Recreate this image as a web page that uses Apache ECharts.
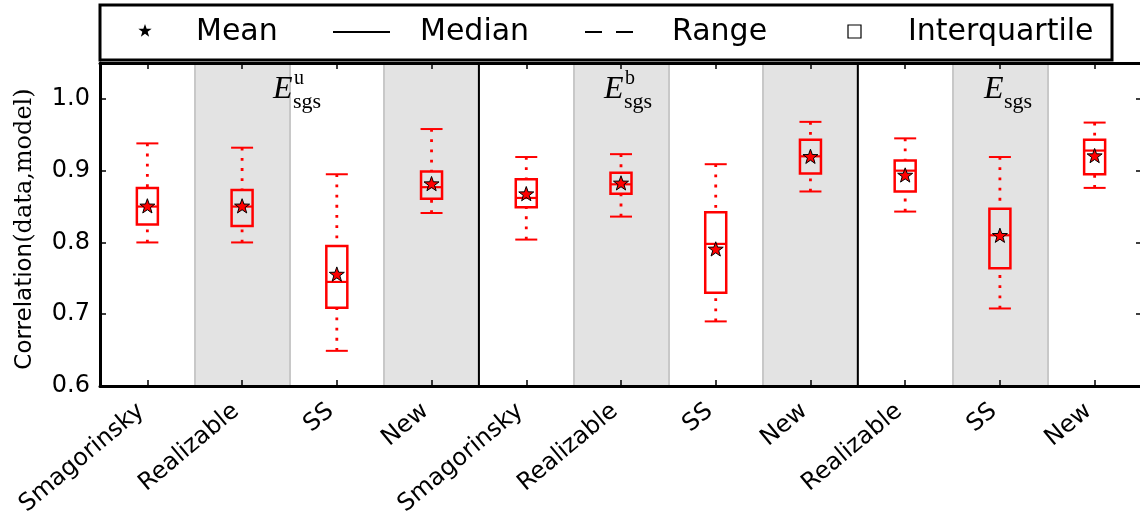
<!DOCTYPE html>
<html>
<head>
<meta charset="utf-8">
<script src="https://cdn.jsdelivr.net/npm/echarts@6/dist/echarts.min.js"></script>
<style>
html,body{margin:0;padding:0;background:#fff;}
#chart{width:1140px;height:523px;}
</style>
</head>
<body>
<div id="chart"></div>
<script>
// ---- data ----
const categories = ['Smagorinsky','Realizable','SS','New','Smagorinsky','Realizable','SS','New','Realizable','SS','New'];
const rangeMin = [0.800,0.800,0.649,0.841, 0.804,0.836,0.690,0.871, 0.843,0.708,0.876];
const q1       = [0.825,0.823,0.709,0.861, 0.849,0.868,0.730,0.896, 0.871,0.764,0.895];
const median   = [0.850,0.850,0.745,0.877, 0.862,0.881,0.798,0.920, 0.900,0.810,0.928];
const q3       = [0.876,0.873,0.795,0.899, 0.888,0.897,0.842,0.943, 0.914,0.847,0.943];
const rangeMax = [0.938,0.932,0.895,0.958, 0.919,0.923,0.909,0.968, 0.945,0.919,0.967];
const meanVals = [0.851,0.851,0.756,0.882, 0.868,0.883,0.791,0.920, 0.894,0.810,0.921];
const panelSeparators = [3.5, 7.5];
const panelTitleBase = ['E','E','E'];
const panelTitleSup = ['u','b',''];
const panelTitleSub = ['sgs','sgs','sgs'];
const legendLabels = ['Mean','Median','Range','Interquartile'];
const yAxisTitle = 'Correlation';
const yAxisTitleSub = '(data,model)';

const boxData = categories.map((c,i)=>[i, rangeMin[i], q1[i], median[i], q3[i], rangeMax[i]]);
const meanData = categories.map((c,i)=>[i, meanVals[i]]);

const STAR = 'path://M0,-10 L2.351,-3.236 L9.511,-3.090 L3.804,1.236 L5.878,8.090 L0,4 L-5.878,8.090 L-3.804,1.236 L-9.511,-3.090 L-2.351,-3.236 Z';

function starPoints(cx, cy, r){
  const pts = [];
  for(let k=0;k<10;k++){
    const rr = (k%2===0) ? r : r*0.4;
    const a = -Math.PI/2 + k*Math.PI/5;
    pts.push([cx + rr*Math.cos(a), cy + rr*Math.sin(a)]);
  }
  return pts;
}

const chart = echarts.init(document.getElementById('chart'), null, {renderer:'canvas'});

const axisFont = 'DejaVu Sans';
const red = '#ff0000';

function renderBox(params, api){
  const x = api.value(0);
  const pMin = api.coord([x, api.value(1)]);
  const pQ1 = api.coord([x, api.value(2)]);
  const pMed = api.coord([x, api.value(3)]);
  const pQ3 = api.coord([x, api.value(4)]);
  const pMax = api.coord([x, api.value(5)]);
  const hb = 10.5, hc = 11;
  const cx = pMed[0];
  const dot = {stroke: red, lineWidth: 2.8, lineDash:[2.8,7.4]};
  return {type:'group', children:[
    {type:'line', shape:{x1:cx,y1:pMax[1],x2:cx,y2:pQ3[1]}, style:dot},
    {type:'line', shape:{x1:cx,y1:pMin[1],x2:cx,y2:pQ1[1]}, style:dot},
    {type:'line', shape:{x1:cx-hc,y1:pMax[1],x2:cx+hc,y2:pMax[1]}, style:{stroke:red,lineWidth:2}},
    {type:'line', shape:{x1:cx-hc,y1:pMin[1],x2:cx+hc,y2:pMin[1]}, style:{stroke:red,lineWidth:2}},
    {type:'rect', shape:{x:cx-hb,y:pQ3[1],width:2*hb,height:pQ1[1]-pQ3[1]}, style:{stroke:red,lineWidth:2.5,fill:null}},
    {type:'line', shape:{x1:cx-hb,y1:pMed[1],x2:cx+hb,y2:pMed[1]}, style:{stroke:red,lineWidth:2.2}}
  ]};
}

function renderSep(params, api){
  const x = api.value(0);
  const top = api.coord([x, 1.05]);
  const bot = api.coord([x, 0.6]);
  return {type:'line', shape:{x1:top[0],y1:top[1],x2:bot[0],y2:bot[1]}, style:{stroke:'#000',lineWidth:2}};
}

const titleX = [273, 604, 984];
const graphics = [];
titleX.forEach((x,i)=>{
  graphics.push({type:'text', x:x, y:90, style:{text:panelTitleBase[i], font:'italic 32px "Liberation Serif"', fill:'#000', verticalAlign:'middle', align:'left'}, z:50});
  if(panelTitleSup[i]) graphics.push({type:'text', x:x+21, y:79, style:{text:panelTitleSup[i], font:'20px "Liberation Serif"', fill:'#000', verticalAlign:'middle', align:'left'}, z:50});
  graphics.push({type:'text', x:x+20, y:102, style:{text:panelTitleSub[i], font:'22px "Liberation Serif"', fill:'#000', verticalAlign:'middle', align:'left'}, z:50});
});
// legend box
graphics.push({type:'rect', shape:{x:100,y:5,width:1012,height:55}, style:{fill:'#fff',stroke:'#000',lineWidth:3}, z:60});
graphics.push({type:'polygon', shape:{points:starPoints(145,31,7)}, style:{fill:'#000'}, z:61});
graphics.push({type:'text', x:196, y:32, style:{text:legendLabels[0], font:'30px "DejaVu Sans"', fill:'#000', verticalAlign:'middle'}, z:61});
graphics.push({type:'line', shape:{x1:333,y1:32,x2:390,y2:32}, style:{stroke:'#000',lineWidth:2}, z:61});
graphics.push({type:'text', x:420, y:32, style:{text:legendLabels[1], font:'30px "DejaVu Sans"', fill:'#000', verticalAlign:'middle'}, z:61});
graphics.push({type:'line', shape:{x1:585,y1:32,x2:634,y2:32}, style:{stroke:'#000',lineWidth:2,lineDash:[17,14]}, z:61});
graphics.push({type:'text', x:672, y:32, style:{text:legendLabels[2], font:'30px "DejaVu Sans"', fill:'#000', verticalAlign:'middle'}, z:61});
graphics.push({type:'rect', shape:{x:848,y:25,width:13,height:13}, style:{fill:'#fff',stroke:'#000',lineWidth:1.2}, z:61});
graphics.push({type:'text', x:908, y:32, style:{text:legendLabels[3], font:'30px "DejaVu Sans"', fill:'#000', verticalAlign:'middle'}, z:61});
// y axis title
graphics.push({type:'text', x:25, y:229, rotation:Math.PI/2, style:{
  text:'{a|'+yAxisTitle+'}{b|'+yAxisTitleSub+'}', align:'center', verticalAlign:'middle',
  rich:{a:{fontFamily:'DejaVu Sans', fontSize:23, fill:'#000', verticalAlign:'bottom'}, b:{fontFamily:'DejaVu Serif', fontSize:24, fill:'#000', verticalAlign:'bottom'}}
}, z:50});

const option = {
  animation:false,
  backgroundColor:'#fff',
  grid:{left:100, top:63, width:1042, height:323, containLabel:false, outerBoundsMode:'none'},
  xAxis:[
    {type:'category', data:categories, position:'bottom', boundaryGap:true,
     axisLine:{show:true, onZero:false, lineStyle:{color:'#000', width:3}},
     axisTick:{show:true, inside:true, alignWithLabel:true, length:6, lineStyle:{color:'#000', width:1.5}},
     axisLabel:{show:true, interval:0, rotate:40, margin:17, padding:[0,8,0,0], fontFamily:axisFont, fontSize:24, color:'#000'},
     splitLine:{show:true, interval:0, lineStyle:{color:'#c8c8c8', width:2}},
     splitArea:{show:true, interval:0, areaStyle:{color:['#ffffff','#e3e3e3']}}
    },
    {type:'category', data:categories, position:'top', boundaryGap:true,
     axisLine:{show:true, onZero:false, lineStyle:{color:'#000', width:3}},
     axisTick:{show:true, inside:true, alignWithLabel:true, length:6, lineStyle:{color:'#000', width:1.5}},
     axisLabel:{show:false}, splitLine:{show:false}
    },
    {type:'value', min:-0.5, max:10.5, show:false, axisLine:{onZero:false}}
  ],
  yAxis:[
    {type:'value', min:0.6, max:1.05, interval:0.1, position:'left',
     axisLine:{show:true, onZero:false, lineStyle:{color:'#000', width:3}},
     axisTick:{show:true, inside:true, length:6, lineStyle:{color:'#000', width:1.5}},
     axisLabel:{show:true, margin:10, fontFamily:axisFont, fontSize:24, color:'#000', showMaxLabel:false, formatter:v=>v.toFixed(1)},
     splitLine:{show:true, lineStyle:{color:'#b0b0b0', width:1.5}}
    },
    {type:'value', min:0.6, max:1.05, interval:0.1, position:'right',
     axisLine:{show:true, onZero:false, lineStyle:{color:'#000', width:3}},
     axisTick:{show:true, inside:true, length:6, lineStyle:{color:'#000', width:1.5}},
     axisLabel:{show:false}, splitLine:{show:false}
    }
  ],
  series:[
    {type:'custom', name:'Range', xAxisIndex:0, yAxisIndex:0, renderItem:renderBox, data:boxData, z:5},
    {type:'custom', name:'sep', xAxisIndex:2, yAxisIndex:0, renderItem:renderSep, data:panelSeparators.map(v=>[v]), z:4},
    {type:'scatter', name:'Mean', xAxisIndex:0, yAxisIndex:0, data:meanData, symbol:STAR, symbolSize:15, symbolKeepAspect:true,
     itemStyle:{color:red, borderColor:'#000', borderWidth:1, opacity:1}, z:10}
  ],
  graphic:graphics
};
chart.setOption(option);
</script>
</body>
</html>
